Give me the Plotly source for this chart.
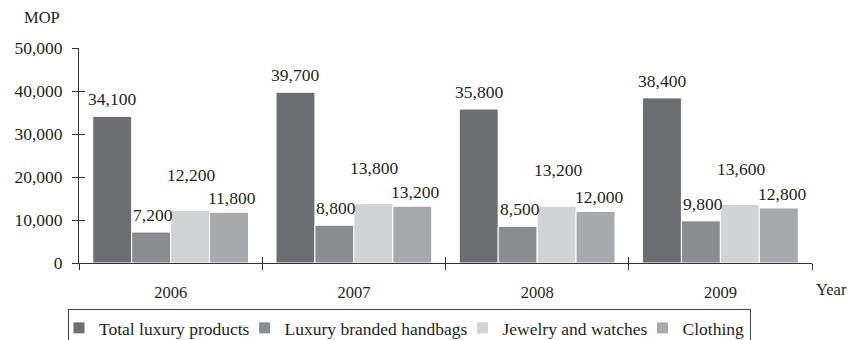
import plotly.graph_objects as go

# Luxury goods sales by category (MOP)
years = ["2006", "2007", "2008", "2009"]
series_names = ["Total luxury products", "Luxury branded handbags",
                "Jewelry and watches", "Clothing"]
total = [34100, 39700, 35800, 38400]
handbags = [7200, 8800, 8500, 9800]
jewelry = [12200, 13800, 13200, 13600]
clothing = [11800, 13200, 12000, 12800]
y_ticks = [0, 10000, 20000, 30000, 40000, 50000]

series_values = [total, handbags, jewelry, clothing]
colors = ["#6d6e72", "#8b8c8f", "#d2d3d5", "#a7a9ac"]
label_lift = [17, 17, 36, 14]   # vertical offset of value labels per series (px)
label_nudge = [0, 2, 1, 3]      # horizontal nudge of value labels per series (px)

font_family = "Liberation Serif"
text_color = "#231f20"

# numeric slot for each year on a linear axis; boundaries sit half-way between
pos = list(range(len(years)))
x_range = [-0.5, len(years) - 0.5]
boundaries = [p - 0.5 for p in pos] + [pos[-1] + 0.5]

W, H = 851, 340
margin = dict(l=79, r=39, t=48, b=77, autoexpand=False)
plot_w = W - margin["l"] - margin["r"]
bargap = 0.15
cat_w = plot_w / len(years)
bar_w = cat_w * (1 - bargap) / len(series_values)

fig = go.Figure()
for name, vals, col in zip(series_names, series_values, colors):
    fig.add_trace(go.Bar(
        x=pos, y=vals, name=name,
        marker=dict(color=col, line=dict(color="white", width=1)),
        hoverinfo="skip",
    ))

# empty trace so the overlaid tick axes form a subplot of their own
fig.add_trace(go.Scatter(x=[], y=[], xaxis="x2", yaxis="y2",
                         showlegend=False, hoverinfo="skip"))

annotations = []
for i, vals in enumerate(series_values):
    offset = (i - (len(series_values) - 1) / 2) * bar_w
    for p, v in zip(pos, vals):
        annotations.append(dict(
            x=p, y=v, xref="x", yref="y", text=f"{v:,}", showarrow=False,
            xshift=offset + label_nudge[i], yshift=label_lift[i],
            yanchor="middle", xanchor="center",
            font=dict(family=font_family, size=17.5, color=text_color),
        ))

annotations.append(dict(text="MOP", x=-0.05, y=1.14, xref="paper", yref="paper",
                        showarrow=False, xanchor="center", yanchor="middle",
                        font=dict(family=font_family, size=16.5, color=text_color)))
annotations.append(dict(text="Year", x=1.0, y=-0.125, xref="paper", yref="paper",
                        showarrow=False, xanchor="left", yanchor="middle", xshift=2,
                        font=dict(family=font_family, size=16.5, color=text_color)))

axis_line = "#333333"
fig.update_layout(
    width=W, height=H, margin=margin,
    paper_bgcolor="white", plot_bgcolor="white",
    barmode="group", bargap=bargap, bargroupgap=0,
    font=dict(family=font_family, size=17, color=text_color),
    xaxis=dict(
        range=x_range, tickvals=pos, ticktext=years, ticks="",
        showline=True, linecolor=axis_line, linewidth=1,
        showgrid=False, zeroline=False, ticklabelstandoff=14,
        tickfont=dict(size=16.5),
        minor=dict(tickmode="array", tickvals=boundaries, ticks="outside",
                   ticklen=6, tickcolor=axis_line, showgrid=False),
    ),
    xaxis2=dict(
        overlaying="x", anchor="y2", range=x_range,
        tickvals=boundaries, ticks="inside", ticklen=6,
        tickcolor=axis_line, showticklabels=False, showline=False,
        showgrid=False, zeroline=False,
    ),
    yaxis=dict(
        range=[0, 50000], tickvals=y_ticks, tickformat=",d",
        showline=True, linecolor=axis_line, linewidth=1,
        ticks="outside", ticklen=6, tickcolor=axis_line,
        showgrid=False, zeroline=False, ticklabelstandoff=6,
        tickfont=dict(size=17.5),
    ),
    yaxis2=dict(
        overlaying="y", anchor="x2", range=[0, 50000], tickvals=y_ticks,
        ticks="inside", ticklen=6, tickcolor=axis_line,
        showticklabels=False, showline=False, showgrid=False, zeroline=False,
    ),
    legend=dict(
        orientation="h", x=68 / W, y=1 - 309 / H, xref="container", yref="container",
        xanchor="left", yanchor="top", indentation=-10,
        bordercolor="#444444", borderwidth=1, font=dict(size=17.5),
        itemclick=False,
    ),
    annotations=annotations,
)

fig.write_html("out.html")
